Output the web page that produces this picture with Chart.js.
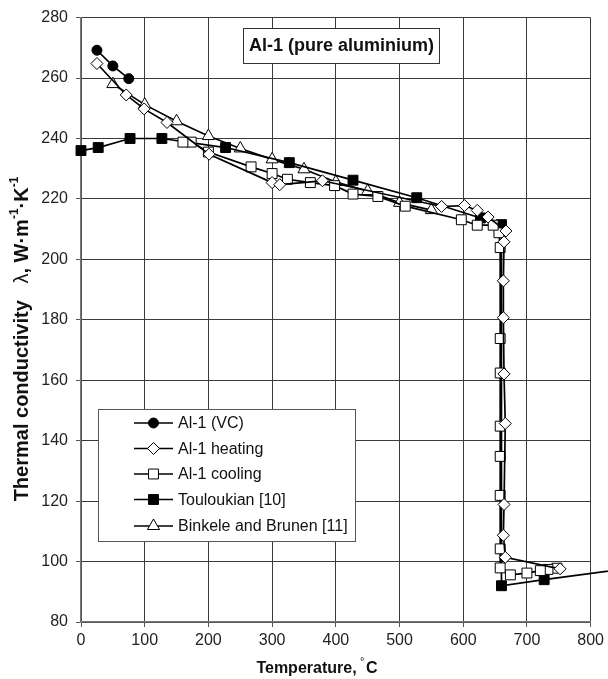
<!DOCTYPE html>
<html>
<head>
<meta charset="utf-8">
<script src="https://cdn.jsdelivr.net/npm/chart.js@4.4.1/dist/chart.umd.min.js"></script>
<style>
html,body{margin:0;padding:0;background:#fff;}
#wrap{width:608px;height:679px;position:relative;}
</style>
</head>
<body>
<div id="wrap"><canvas id="c" width="608" height="679"></canvas></div>
<script>
// ---- data (Temperature in °C, thermal conductivity in W/m/K) ----
const vcT = [25, 50, 75];
const vcK = [269.2, 264, 259.8];

const heatT = [25, 71, 99, 135, 201, 300, 312, 379, 566, 602, 622, 639, 667, 664, 663, 663, 664, 666, 664, 663, 666, 752];
const heatK = [264.8, 254.4, 249.8, 245.3, 234.8, 225.4, 224.7, 226.0, 217.5, 217.8, 216.2, 214.0, 209.4, 205.8, 192.9, 180.7, 162.1, 145.7, 118.9, 108.7, 101.4, 97.6];

const coolT = [747, 733, 721, 700, 674, 658, 658, 658, 658, 658, 658, 658, 658, 656, 647, 622, 597, 509, 466, 427, 398, 360, 324, 300, 267, 200, 173, 160];
const coolK = [97.8, 97.4, 97.0, 96.2, 95.6, 97.9, 104.2, 121.9, 134.8, 144.8, 162.4, 173.8, 203.9, 208.8, 211.3, 211.3, 213.1, 217.6, 220.8, 221.6, 224.4, 225.4, 226.5, 228.4, 230.6, 235.5, 238.8, 238.8];

const toulT = [0, 27, 77, 127, 227, 327, 427, 527, 627, 660, 660, 727, 927];
const toulK = [236, 237, 240, 240, 237, 232, 226.2, 220.4, 213.7, 211.5, 92, 94, 99.7];

const binkT = [50, 100, 150, 200, 250, 300, 350, 400, 450, 500, 550];
const binkK = [258, 251.2, 245.7, 240.8, 236.7, 233.1, 229.8, 225.6, 222.6, 218.7, 216.3];

const seriesNames = ['Al-1 (VC)', 'Al-1 heating', 'Al-1 cooling', 'Touloukian [10]', 'Binkele and Brunen [11]'];
const xTicks = [0, 100, 200, 300, 400, 500, 600, 700, 800];
const yTicks = [80, 100, 120, 140, 160, 180, 200, 220, 240, 260, 280];
const chartTitle = 'Al-1 (pure aluminium)';

function pts(xs, ys) { return xs.map((x, i) => ({x: x, y: ys[i]})); }

const styles = [
  {pointStyle: 'circle', radius: 5, fill: '#000'},
  {pointStyle: 'rectRot', radius: 6, fill: '#fff'},
  {pointStyle: 'rect', radius: 7, fill: '#fff'},
  {pointStyle: 'rect', radius: 7, fill: '#000'},
  {pointStyle: 'triangle', radius: 7, fill: '#fff'}
];
const allData = [pts(vcT, vcK), pts(heatT, heatK), pts(coolT, coolK), pts(toulT, toulK), pts(binkT, binkK)];

const datasets = allData.map((d, i) => ({
  label: seriesNames[i],
  data: d,
  showLine: true,
  borderColor: '#000',
  borderWidth: 1.7,
  pointStyle: styles[i].pointStyle,
  pointRadius: styles[i].radius,
  pointBackgroundColor: styles[i].fill,
  pointBorderColor: '#000',
  pointBorderWidth: 1,
  tension: 0,
  clip: i === 3 ? false : undefined
}));

const FONT = "'Liberation Sans', Arial, Helvetica, sans-serif";

const overlay = {
  id: 'overlay',
  afterDraw(chart) {
    const ctx = chart.ctx;
    ctx.save();
    // title box
    ctx.font = 'bold 18px ' + FONT;
    ctx.fillStyle = '#fff';
    ctx.strokeStyle = '#333';
    ctx.lineWidth = 1;
    ctx.fillRect(243, 28, 197, 35);
    ctx.strokeRect(243.5, 28.5, 196, 35);
    ctx.fillStyle = '#111';
    ctx.textAlign = 'center';
    ctx.textBaseline = 'middle';
    ctx.fillText(chartTitle, 341.5, 46);

    // legend
    ctx.fillStyle = '#fff';
    ctx.fillRect(98, 409, 257, 132);
    ctx.strokeStyle = '#555';
    ctx.strokeRect(98.5, 409.5, 257, 132);
    const rowY = [423, 448.5, 474, 499.5, 526];
    ctx.font = '16px ' + FONT;
    ctx.textAlign = 'left';
    for (let i = 0; i < seriesNames.length; i++) {
      const y = rowY[i];
      ctx.strokeStyle = '#000';
      ctx.lineWidth = 1.7;
      ctx.beginPath();
      ctx.moveTo(134, y); ctx.lineTo(173, y);
      ctx.stroke();
      ctx.fillStyle = styles[i].fill;
      ctx.strokeStyle = '#000';
      ctx.lineWidth = 1;
      Chart.helpers.drawPoint(ctx, {pointStyle: styles[i].pointStyle, radius: styles[i].radius, rotation: 0, borderWidth: 1}, 153.5, y);
      ctx.fillStyle = '#111';
      ctx.fillText(seriesNames[i], 178, y + 1);
    }

    // x title
    ctx.font = 'bold 16px ' + FONT;
    ctx.fillStyle = '#111';
    const wT = ctx.measureText('Temperature, ').width;
    const wC = ctx.measureText('C').width;
    const totalX = wT + 5 + wC;
    let sx = 317 - totalX / 2;
    ctx.textAlign = 'left';
    ctx.fillText('Temperature, ', sx, 669);
    ctx.font = '11px ' + FONT;
    ctx.fillText('°', sx + wT - 1, 662);
    ctx.font = 'bold 16px ' + FONT;
    ctx.fillText('C', sx + wT + 5, 669);

    // y title (rotated)
    ctx.translate(22, 339);
    ctx.rotate(-Math.PI / 2);
    const parts = [
      {t: 'Thermal conductivity   ', f: 'bold 20px ', dy: 0},
      {t: 'λ', f: '20px ', dy: 0},
      {t: ', W·m', f: 'bold 20px ', dy: 0},
      {t: '-1', f: 'bold 12px ', dy: -7},
      {t: '·K', f: 'bold 20px ', dy: 0},
      {t: '-1', f: 'bold 12px ', dy: -7}
    ];
    let total = 0;
    parts.forEach(p => { ctx.font = p.f + FONT; p.w = ctx.measureText(p.t).width; total += p.w; });
    let x = -total / 2;
    ctx.textBaseline = 'middle';
    parts.forEach(p => { ctx.font = p.f + FONT; ctx.fillText(p.t, x, p.dy); x += p.w; });
    ctx.restore();
  }
};

new Chart(document.getElementById('c'), {
  type: 'scatter',
  data: {datasets: datasets},
  options: {
    responsive: false,
    animation: false,
    devicePixelRatio: 1,
    layout: {padding: {top: 12, right: 15, left: 0, bottom: 0}},
    plugins: {legend: {display: false}, tooltip: {enabled: false}, title: {display: false}},
    scales: {
      x: {
        type: 'linear', min: 0, max: 800,
        afterFit(s) { s.height = 57; },
        afterBuildTicks(s) { s.ticks = xTicks.map(v => ({value: v})); },
        ticks: {color: '#222', font: {family: FONT, size: 16}, padding: 4, maxRotation: 0},
        grid: {color: '#3a3a3a', lineWidth: 1, tickLength: 5, tickColor: '#555'},
        border: {display: true, color: '#777', width: 1.5}
      },
      y: {
        type: 'linear', min: 80, max: 280,
        afterFit(s) { s.width = 81; },
        afterBuildTicks(s) { s.ticks = yTicks.map(v => ({value: v})); },
        ticks: {color: '#222', font: {family: FONT, size: 16}, padding: 8},
        grid: {color: '#3a3a3a', lineWidth: 1, tickLength: 5, tickColor: '#555'},
        border: {display: true, color: '#777', width: 1.5}
      }
    }
  },
  plugins: [overlay]
});
</script>
</body>
</html>
